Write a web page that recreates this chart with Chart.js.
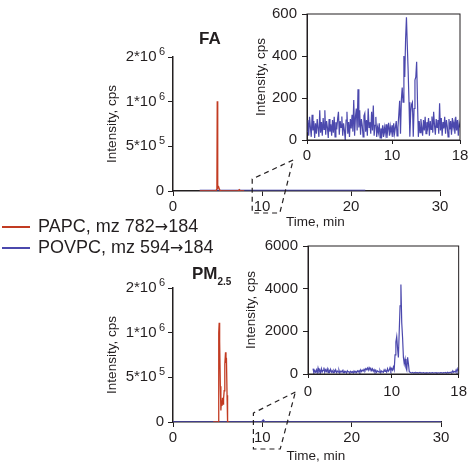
<!DOCTYPE html>
<html>
<head>
<meta charset="utf-8">
<script src="https://cdn.jsdelivr.net/npm/chart.js@4.4.1/dist/chart.umd.min.js"></script>
<style>
  html, body { margin: 0; padding: 0; background: #fff; }
  #fig { position: relative; width: 472px; height: 464px; overflow: hidden;
         font-family: "Liberation Sans", Arial, sans-serif; color: #231f20; }
  #fig canvas { position: absolute; }
  .key { position: absolute; left: 38px; font-size: 18px; line-height: 20px; white-space: nowrap; }
  .key .arr { font-family: "DejaVu Sans", sans-serif; font-size: 16px; }
  .swatch { position: absolute; left: 2px; width: 28px; height: 2px; }
</style>
</head>
<body>
<div id="fig">
  <canvas id="faMain" width="370" height="234" style="left:95px;top:0px"></canvas>
  <canvas id="pmMain" width="370" height="214" style="left:95px;top:250px"></canvas>
  <canvas id="faInset" width="227" height="165" style="left:245px;top:0px"></canvas>
  <canvas id="pmInset" width="232" height="165" style="left:240px;top:232px"></canvas>
  <div class="swatch" id="sw0" style="top:226px"></div>
  <div class="key" id="key0" style="top:216px"></div>
  <div class="swatch" id="sw1" style="top:247px"></div>
  <div class="key" id="key1" style="top:237px"></div>
</div>
<script>
(function () {
    "use strict";

    const seriesNames = ["PAPC, mz 782\u2192184", "POVPC, mz 594\u2192184"];
    const seriesColors = ["#c23b22", "#4b48ad"];

    // tick labels (main y labels carry their power of ten separately)
    const mainYTicks = [0, 5e5, 1e6, 2e6];
    const mainYLabels = ["0", "5*10\u2002", "1*10\u2002", "2*10\u2002"];
    const mainYPowers = ["", "5", "6", "6"];
    const mainXTicks = [0, 10, 20, 30];
    const faInsetYTicks = [0, 200, 400, 600];
    const pmInsetYTicks = [0, 2000, 4000, 6000];
    const insetXTicks = [0, 10, 18];

    // FA, full run
    const faPapcTime = [3.0, 4.8, 4.93, 4.97, 5.0, 5.05, 5.12, 5.25, 5.5, 7.3, 7.45, 7.6, 8.0];
    const faPapcValue = [0, 0, 2e4, 1.01e6, 2e4, 6e4, 5e4, 1e4, 0, 0, 1.5e4, 0, 0];
    const faPovpcTime = [3.0, 21.6];
    const faPovpcValue = [0, 0];

    // PM2.5, full run
    const pmPapcTime = [4.5, 5.07, 5.12, 5.17, 5.22, 5.3, 5.36, 5.42, 5.48, 5.54, 5.6,
        5.66, 5.73, 5.8, 5.88, 5.93, 5.98, 6.05, 6.11, 6.3];
    const pmPapcValue = [0, 0, 1.0e6, 1.22e6, 9e5, 4e5, 1.3e5, 2.4e5, 1.8e5, 2.7e5, 2.0e5,
        2.6e5, 3.5e5, 6.5e5, 7.8e5, 6.6e5, 7.2e5, 3e5, 0, 0];
    const pmPovpcTime = [0, 9.9, 10.1, 10.3, 30];
    const pmPovpcValue = [0, 0, 2.2e4, 0, 0];

    // insets (POVPC), one reading every 0.1 min from 0 to 18
    const insetStep = 0.1;
    const faInsetValue = [
        40, 95, 20, 110, 60, 15, 120, 45, 90, 10,
        80, 30, 100, 55, 15, 142, 35, 85, 20, 105,
        50, 142, 25, 90, 60, 10, 100, 40, 75, 20,
        95, 35, 110, 15, 85, 50, 100, 134, 25, 90,
        60, 112, 20, 80, 45, 0, 95, 134, 30, 85,
        15, 100, 55, 120, 40, 190, 20, 110, 150, 45,
        242, 60, 142, 25, 100, 70, 15, 115, 127, 40,
        95, 20, 150, 60, 85, 30, 134, 45, 164, 20,
        70, 110, 15, 60, 35, 80, 10, 55, 25, 70,
        15, 60, 30, 75, 10, 50, 82, 20, 65, 35,
        70, 15, 80, 30, 60, 90, 20, 60, 120, 187,
        30, 190, 250, 180, 400, 300, 480, 585, 450, 330,
        180, 15, 130, 170, 180, 15, 150, 285, 300, 373,
        180, 15, 90, 35, 100, 60, 20, 95, 45, 110,
        30, 85, 60, 105, 20, 90, 50, 112, 35, 134,
        70, 25, 100, 60, 95, 30, 175, 45, 105, 20,
        85, 55, 110, 30, 95, 65, 15, 100, 50, 90,
        25, 105, 60, 85, 30, 110, 45, 95, 20, 80,
        60,
    ];
    const pmInsetValue = [
        null, null, null, null, null, null, 250, 60, 150, 90,
        200, 50, 280, 120, 180, 60, 250, 100, 170, 300,
        80, 200, 120, 240, 60, 180, 100, 220, 90, 150,
        60, 170, 110, 200, 70, 140, 90, 180, 50, 130,
        100, 160, 60, 140, 80, 120, 50, 150, 90, 110,
        60, 130, 80, 110, 50, 140, 90, 120, 70, 150,
        100, 160, 80, 200, 120, 180, 140, 220, 160, 250,
        200, 280, 180, 300, 220, 260, 160, 240, 130, 200,
        100, 180, 80, 150, 120, 90, 170, 60, 140, 110,
        80, 200, 120, 160, 90, 250, 130, 180, 300, 150,
        250, 180, 330, 200, 900, 1500, 1750, 1200, 780, 2000,
        3200, 4200, 2400, 1700, 780, 480, 700, 300, 180, 780,
        480, 100, 80, 60, 50, 70, 40, 60, 50, 70,
        50, 60, 40, 70, 50, 60, 40, 50, 60, 45,
        55, 40, 60, 50, 45, 60, 40, 55, 50, 60,
        45, 55, 50, 60, 40, 55, 50, 45, 60, 50,
        55, 40, 60, 50, 70, 45, 60, 80, 50, 70,
        60, 90, 70, 150, 80, 120, 90, 200, 100, 250,
        150,
    ];

    const ink = "#231f20";
    const family = '"Liberation Sans", Arial, sans-serif';
    const tickFont = { family: family, size: 15 };
    const titleFont = { family: family, size: 13.5 };
    const mainTickLen = 5;
    const mainTickPad = 4;

    // legend, arrow set in a font with a long arrow
    seriesNames.forEach((name, i) => {
        const key = document.getElementById("key" + i);
        const parts = name.split("\u2192");
        key.appendChild(document.createTextNode(parts[0]));
        const arr = document.createElement("span");
        arr.className = "arr";
        arr.textContent = "\u2192";
        key.appendChild(arr);
        key.appendChild(document.createTextNode(parts[1]));
        document.getElementById("sw" + i).style.background = seriesColors[i];
    });

    // the main y axis is evenly spaced between its ticks (0, 5e5, 1e6, 2e6)
    function brokenY(v) {
        for (let i = 1; i < mainYTicks.length; i++) {
            if (v <= mainYTicks[i] || i === mainYTicks.length - 1) {
                return i - 1 + (v - mainYTicks[i - 1]) / (mainYTicks[i] - mainYTicks[i - 1]);
            }
        }
    }

    const points = (times, values, f) =>
        times.map((t, i) => ({ x: t, y: values[i] === null ? null : (f ? f(values[i]) : values[i]) }));

    const decor = {
        id: "decor",
        afterDraw(chart, args, o) {
            const ctx = chart.ctx;
            const a = chart.chartArea;
            const xs = chart.scales.x;
            const ys = chart.scales.y;
            ctx.save();
            ctx.fillStyle = ink;
            ctx.strokeStyle = ink;
            if (o.frame) {
                ctx.lineWidth = 1;
                ctx.strokeRect(a.left, a.top, a.right - a.left, a.bottom - a.top);
            }
            if (o.powers) {
                ctx.font = "11px " + family;
                ctx.textAlign = "right";
                ctx.textBaseline = "middle";
                const rx = a.left - mainTickLen - mainTickPad + 1;
                o.powers.forEach((p, i) => {
                    if (p) ctx.fillText(p, rx, ys.getPixelForValue(i) - 5);
                });
            }
            if (o.title) {
                ctx.font = "bold 17px " + family;
                ctx.textBaseline = "alphabetic";
                ctx.textAlign = "left";
                const tx = a.left + o.title.dx;
                const ty = a.top + o.title.dy;
                ctx.fillText(o.title.text, tx, ty);
                if (o.title.sub) {
                    const w = ctx.measureText(o.title.text).width;
                    ctx.font = "bold 10px " + family;
                    ctx.fillText(o.title.sub, tx + w, ty + 6);
                }
            }
            if (o.xTitle) {
                ctx.font = "13.5px " + family;
                ctx.textAlign = "center";
                ctx.textBaseline = "middle";
                ctx.fillText(o.xTitle.text, xs.getPixelForValue(o.xTitle.at), a.bottom + o.xTitle.dy);
            }
            if (o.zoom) {
                const z = o.zoom;
                const x0 = xs.getPixelForValue(z.from);
                const x1 = xs.getPixelForValue(z.to);
                const xa = xs.getPixelForValue(z.apex);
                ctx.lineWidth = 1.2;
                ctx.setLineDash([5, 4]);
                ctx.beginPath();
                ctx.moveTo(xa, a.bottom + z.apexDy);
                ctx.lineTo(x0, a.bottom + z.top);
                ctx.lineTo(x0, a.bottom + z.bottom);
                ctx.lineTo(x1, a.bottom + z.bottom);
                ctx.lineTo(xa, a.bottom + z.apexDy);
                ctx.stroke();
            }
            ctx.restore();
        },
    };

    function axis(extra, tickLen, pad, borderW) {
        return Object.assign({
            type: "linear",
            grid: { display: true, drawOnChartArea: false, drawTicks: true, tickLength: tickLen, tickColor: ink, tickWidth: 1 },
            border: { display: true, color: ink, width: borderW },
            ticks: { color: ink, font: tickFont, padding: pad, maxRotation: 0, autoSkip: false },
        }, extra);
    }

    function mainChart(id, papc, povpc, povWidth, povColor, padTop, xHeight, padRight, deco) {
        const ySc = axis({
            min: 0, max: mainYTicks.length - 1,
            afterBuildTicks: (s) => { s.ticks = mainYTicks.map((v, i) => ({ value: i })); },
            afterFit: (s) => { s.width = 78; },
            title: { display: true, text: "Intensity, cps", color: ink, font: titleFont, padding: { top: 9, bottom: 0 } },
        }, mainTickLen, mainTickPad, 1.5);
        ySc.ticks.callback = (v, i) => mainYLabels[i];
        deco.powers = mainYPowers;
        return new Chart(document.getElementById(id), {
            type: "line",
            data: {
                datasets: [
                    { label: seriesNames[0], data: papc, borderColor: seriesColors[0], borderWidth: 1.3 },
                    { label: seriesNames[1], data: povpc, borderColor: povColor, borderWidth: povWidth },
                ],
            },
            options: {
                responsive: false,
                animation: false,
                parsing: false,
                layout: { padding: { top: padTop, right: padRight, left: 0, bottom: 0 } },
                elements: { point: { radius: 0 }, line: { tension: 0 } },
                plugins: { legend: { display: false }, tooltip: { enabled: false }, decor: deco },
                scales: {
                    x: axis({
                        min: 0, max: 30,
                        afterBuildTicks: (s) => { s.ticks = mainXTicks.map((v) => ({ value: v })); },
                        afterFit: (s) => { s.height = xHeight; },
                    }, mainTickLen, 2, 1.5),
                    y: ySc,
                },
            },
            plugins: [decor],
        });
    }

    function insetChart(id, values, yTicks, yWidth, titlePad, padTop, padRight, xHeight, xPad) {
        const times = values.map((v, i) => i * insetStep);
        const ySc = axis({
            min: yTicks[0], max: yTicks[yTicks.length - 1],
            afterBuildTicks: (s) => { s.ticks = yTicks.map((v) => ({ value: v })); },
            afterFit: (s) => { s.width = yWidth; },
            title: { display: true, text: "Intensity, cps", color: ink, font: titleFont, padding: { top: titlePad, bottom: 0 } },
        }, 5, 5, 1);
        ySc.ticks.callback = (v) => String(v);
        return new Chart(document.getElementById(id), {
            type: "line",
            data: {
                datasets: [
                    { label: seriesNames[1], data: points(times, values), borderColor: seriesColors[1], borderWidth: 1.2 },
                ],
            },
            options: {
                responsive: false,
                animation: false,
                parsing: false,
                spanGaps: false,
                layout: { padding: { top: padTop, right: padRight, left: 0, bottom: 0 } },
                elements: { point: { radius: 0 }, line: { tension: 0 } },
                plugins: { legend: { display: false }, tooltip: { enabled: false }, decor: { frame: true } },
                scales: {
                    x: axis({
                        min: 0, max: 18,
                        afterBuildTicks: (s) => { s.ticks = insetXTicks.map((v) => ({ value: v })); },
                        afterFit: (s) => { s.height = xHeight; },
                    }, 4, xPad, 1),
                    y: ySc,
                },
            },
            plugins: [decor],
        });
    }

    mainChart("faMain",
        points(faPapcTime, faPapcValue, brokenY),
        points(faPovpcTime, faPovpcValue, brokenY),
        3, "rgba(75,72,173,0.6)", 57, 43, 25,
        {
            title: { text: "FA", dx: 26, dy: -13 },
            xTitle: { text: "Time, min", at: 16, dy: 31 },
            zoom: { from: 8.9, to: 12, apex: 13.5, top: -12, bottom: 22, apexDy: -31 },
        });

    mainChart("pmMain",
        points(pmPapcTime, pmPapcValue, brokenY),
        points(pmPovpcTime, pmPovpcValue, brokenY),
        1.5, seriesColors[1], 38, 42, 24,
        {
            title: { text: "PM", sub: "2.5", dx: 19, dy: -9 },
            xTitle: { text: "Time, min", at: 16, dy: 34 },
            zoom: { from: 9, to: 12, apex: 13.7, top: -9, bottom: 27, apexDy: -30 },
        });

    insetChart("faInset", faInsetValue, faInsetYTicks, 62, 8, 6, 12, 25, 3);
    insetChart("pmInset", pmInsetValue, pmInsetYTicks, 68, 3, 8, 9, 23, 5);
})();
</script>
</body>
</html>
